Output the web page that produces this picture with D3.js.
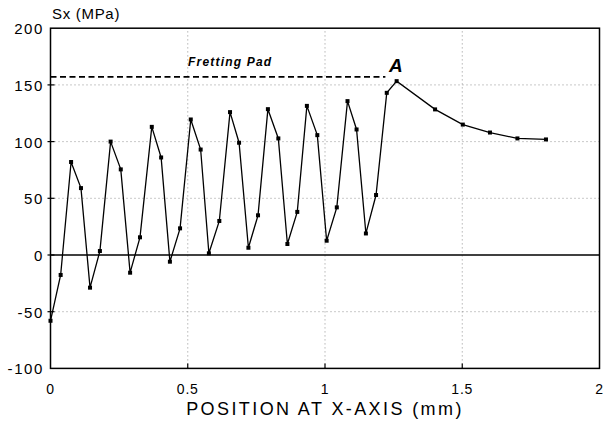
<!DOCTYPE html>
<html><head><meta charset="utf-8">
<script src="https://cdn.jsdelivr.net/npm/d3@7"></script>
<style>body{margin:0;background:#fff}svg{display:block}</style>
</head><body>
<svg id="c" width="603" height="423"></svg>
<script>
const xPos = [0,0.037,0.075,0.111,0.144,0.180,0.219,0.256,0.290,0.326,0.369,0.403,0.435,0.472,0.511,0.547,0.577,0.615,0.654,0.687,0.721,0.756,0.792,0.830,0.863,0.899,0.934,0.972,1.006,1.043,1.082,1.115,1.149,1.186,1.225,1.261,1.401,1.502,1.601,1.701,1.805];
const sx = [-58,-17.6,82,59,-28.8,3.5,100,75.5,-15.6,15.6,113,86,-5.9,23.5,119.5,93,1.5,30,126,99,6.4,35,128.6,102.8,9.7,38,131.5,105.7,12.6,42,135.7,110.7,19,52.9,143,153.3,128.4,115,108,102.8,101.9];
const xTicks = [0,0.5,1,1.5,2];
const xTickLabels = ["0","0.5","1","1.5","2"];
const yTicks = [-100,-50,0,50,100,150,200];
const yTickLabels = ["-100","-50","0","50","100","150","200"];
const padLevel = 157, padEnd = 1.22;

const svg = d3.select("#c");
const x = d3.scaleLinear().domain([0,2]).range([50.5,599.5]);
const y = d3.scaleLinear().domain([-100,200]).range([368.4,28.2]);
const font = "'Liberation Sans', Arial, sans-serif";

// grid
const g = svg.append("g");
g.selectAll("line.gy").data([50,100,150,-50]).join("line")
 .attr("x1",x(0)).attr("x2",x(2)).attr("y1",d=>y(d)).attr("y2",d=>y(d))
 .attr("stroke","#777").attr("stroke-width",0.8).attr("stroke-dasharray","1,3");
g.selectAll("line.gx").data([0.5,1,1.5]).join("line")
 .attr("y1",y(-100)).attr("y2",y(200)).attr("x1",d=>x(d)).attr("x2",d=>x(d))
 .attr("stroke","#777").attr("stroke-width",0.8).attr("stroke-dasharray","1,3");
// zero line
svg.append("line").attr("x1",x(0)).attr("x2",x(2)).attr("y1",y(0)).attr("y2",y(0))
 .attr("stroke","#000").attr("stroke-width",1.3);
// frame
svg.append("rect").attr("x",x(0)).attr("y",y(200)).attr("width",x(2)-x(0)).attr("height",y(-100)-y(200))
 .attr("fill","none").attr("stroke","#000").attr("stroke-width",1.5);
// ticks
svg.selectAll("line.tx").data(xTicks.slice(1,-1)).join("line")
 .attr("x1",d=>x(d)).attr("x2",d=>x(d)).attr("y1",y(-100)).attr("y2",y(-100)-5)
 .attr("stroke","#000").attr("stroke-width",1.2);
svg.selectAll("line.ty").data(yTicks.slice(1,-1)).join("line")
 .attr("x1",x(0)-3).attr("x2",x(0)+4).attr("y1",d=>y(d)).attr("y2",d=>y(d))
 .attr("stroke","#000").attr("stroke-width",1.2);
// tick labels
svg.selectAll("text.xl").data(xTicks).join("text")
 .attr("x",d=>x(d)).attr("y",394).attr("text-anchor","middle")
 .attr("font-family",font).attr("font-size",14).attr("letter-spacing",0.8)
 .text((d,i)=>xTickLabels[i]);
svg.selectAll("text.yl").data(yTicks).join("text")
 .attr("x",44).attr("y",d=>y(d)+6).attr("text-anchor","end")
 .attr("font-family",font).attr("font-size",15).attr("letter-spacing",1.6)
 .text((d,i)=>yTickLabels[i]);
// axis titles
svg.append("text").attr("x",52).attr("y",19).attr("font-family",font).attr("font-size",15)
 .attr("letter-spacing",0.7).text("Sx (MPa)");
svg.append("text").attr("x",325).attr("y",415).attr("text-anchor","middle")
 .attr("font-family",font).attr("font-size",18).attr("letter-spacing",2.4).text("POSITION AT X-AXIS (mm)");
// fretting pad
svg.append("line").attr("x1",x(0)).attr("x2",x(padEnd)).attr("y1",y(padLevel)).attr("y2",y(padLevel))
 .attr("stroke","#000").attr("stroke-width",1.8).attr("stroke-dasharray","6,3.5");
svg.append("text").attr("x",188).attr("y",65.5).attr("font-family",font).attr("font-size",12)
 .attr("font-weight","bold").attr("font-style","italic").attr("letter-spacing",1.2).text("Fretting Pad");
svg.append("text").attr("x",389).attr("y",72).attr("font-family",font).attr("font-size",19)
 .attr("font-weight","bold").attr("font-style","italic").text("A");
// data
const pts = xPos.map((v,i)=>[v,sx[i]]);
svg.append("path").datum(pts)
 .attr("d",d3.line().x(d=>x(d[0])).y(d=>y(d[1])))
 .attr("fill","none").attr("stroke","#000").attr("stroke-width",1.3);
svg.selectAll("rect.m").data(pts).join("rect")
 .attr("x",d=>x(d[0])-2).attr("y",d=>y(d[1])-2).attr("width",4).attr("height",4).attr("fill","#000");
</script>
</body></html>
